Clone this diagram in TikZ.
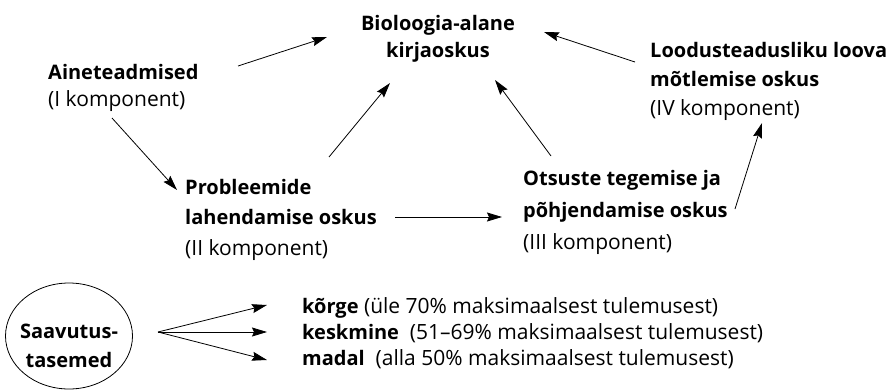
\documentclass[tikz,border=0pt]{standalone}
\usepackage{fontspec}
\setmainfont{Open Sans}
\usetikzlibrary{arrows.meta,shapes.geometric}
\newcommand{\topln}{\rule{0pt}{18pt}}
\newcommand{\bt}[1]{{\fontsize{20}{\baselineskip}\selectfont\bfseries #1}}
\tikzset{
  lbl/.style={inner sep=0pt, align=left, anchor=north west},
  fs/.style={font=\fontsize{21}{#1}\selectfont},
  arr/.style={line width=0.8pt, -{Stealth[length=15pt,width=9pt,inset=2pt]}},
}
\begin{document}
\begin{tikzpicture}[x=1pt,y=-1pt]
\useasboundingbox (0,0) rectangle (892,391);
% text blocks
\node[lbl, fs=27, align=center, anchor=north] (bio) at (438,12) {\topln\bt{Bioloogia-alane}\\\bt{kirjaoskus}};
\node[lbl, fs=27.5] (ain) at (48,61) {\topln\bt{Aineteadmised}\\(I komponent)};
\node[lbl, fs=29] (loo) at (650,39) {\topln\bt{Loodusteadusliku loova}\\\bt{mõtlemise oskus}\\(IV komponent)};
\node[lbl, fs=30.5] (pro) at (185,176) {\topln\bt{Probleemide}\\\bt{lahendamise oskus}\\(II komponent)};
\node[lbl, fs=32] (ots) at (523,167) {\topln\bt{Otsuste tegemise ja}\\\bt{põhjendamise oskus}\\(III komponent)};
\node[draw, ellipse, line width=0.8pt, minimum width=127pt, minimum height=106pt, inner xsep=-8pt, inner ysep=0pt, align=center, fs=29] (saa) at (69,336) {\rule{0pt}{35pt}\bt{Saavutus-}\\\bt{tasemed}};
\node[lbl, fs=26] (lev) at (302,295) {\topln\bt{kõrge} (üle 70\% maksimaalsest tulemusest)\\\bt{keskmine}\ \ (51–69\% maksimaalsest tulemusest)\\\bt{madal}\ \ (alla 50\% maksimaalsest tulemusest)};
% connector endpoints
\coordinate (a1) at (238,66);  \coordinate (b1) at (327,37);
\coordinate (a2) at (112,118); \coordinate (b2) at (177,190);
\coordinate (a3) at (329,157); \coordinate (b3) at (390,83);
\coordinate (a4) at (635,62);  \coordinate (b4) at (544,32);
\coordinate (a5) at (551,156); \coordinate (b5) at (495,80);
\coordinate (a6) at (735,209); \coordinate (b6) at (762,123);
\coordinate (a7) at (395,217); \coordinate (b7) at (502,217);
\coordinate (s0) at (158,332);
\coordinate (k1) at (267,305); \coordinate (k2) at (267,332); \coordinate (k3) at (267,360);
\draw[arr] (a1) -- (b1);
\draw[arr] (a2) -- (b2);
\draw[arr] (a3) -- (b3);
\draw[arr] (a4) -- (b4);
\draw[arr] (a5) -- (b5);
\draw[arr] (a6) -- (b6);
\draw[arr] (a7) -- (b7);
\draw[arr] (s0) -- (k1);
\draw[arr] (s0) -- (k2);
\draw[arr] (s0) -- (k3);
\end{tikzpicture}
\end{document}
